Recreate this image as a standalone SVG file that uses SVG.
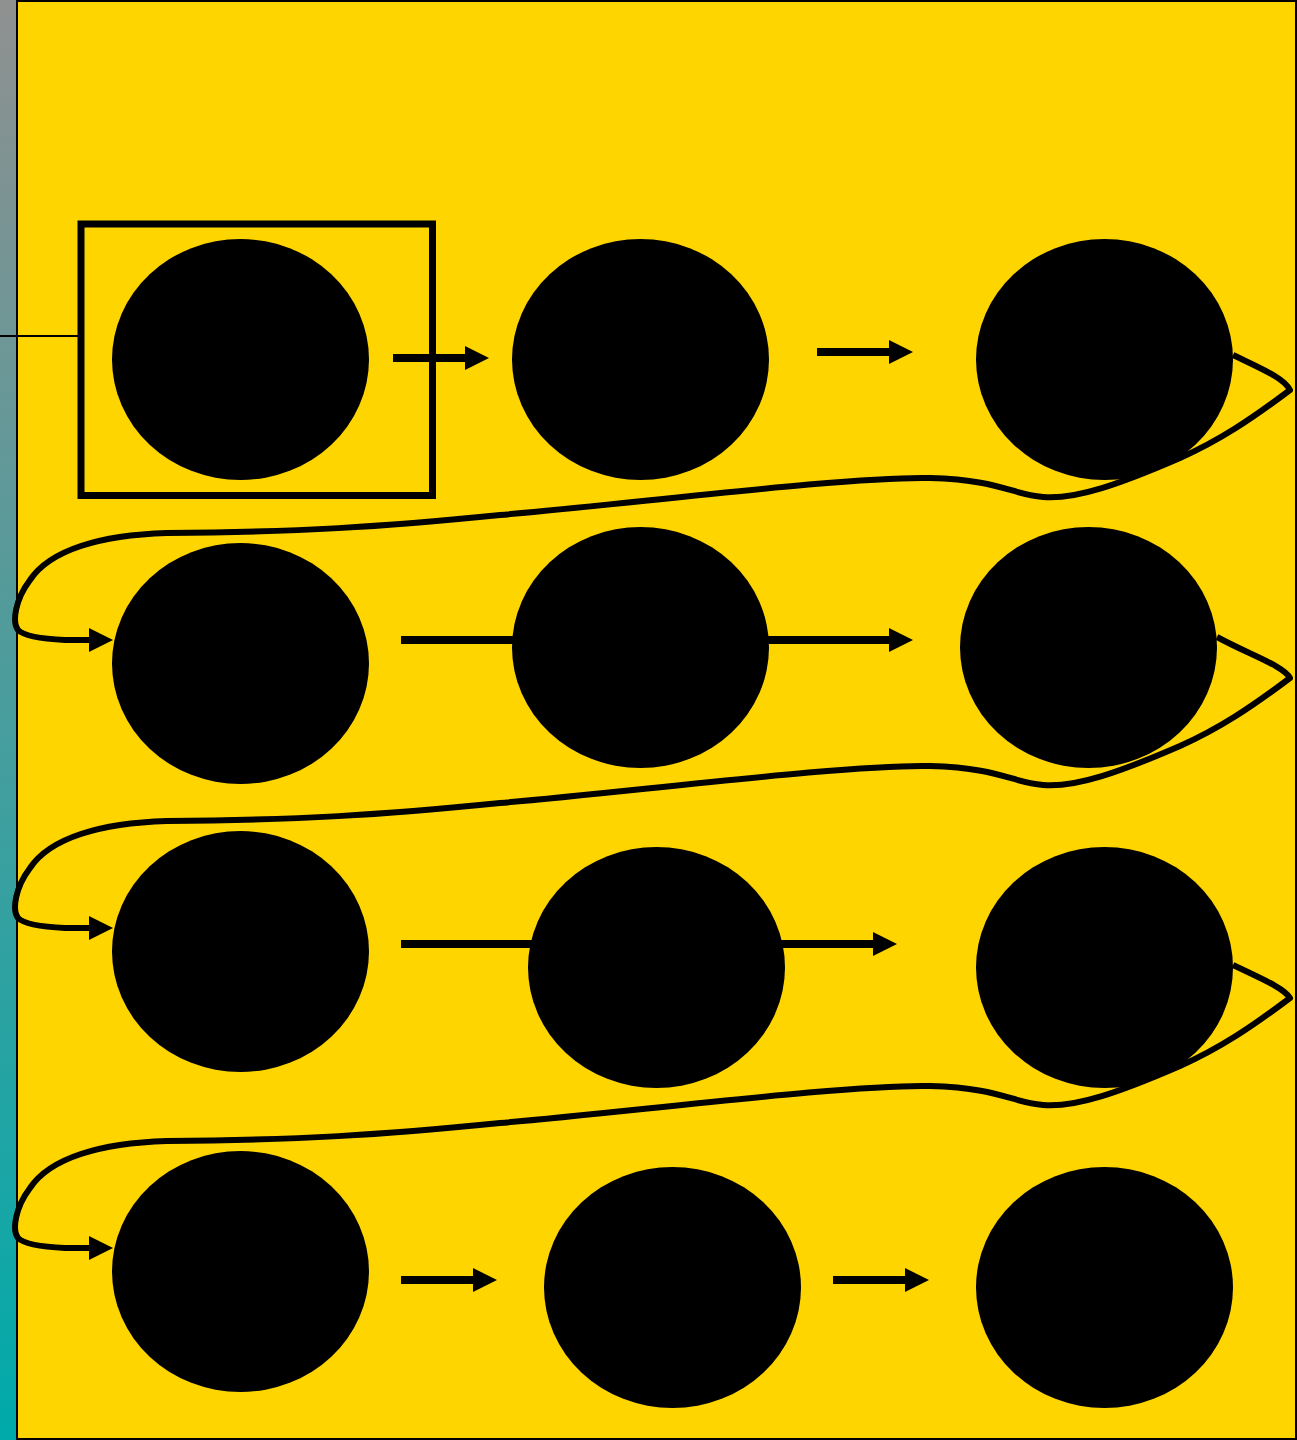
<svg xmlns="http://www.w3.org/2000/svg" width="1297" height="1440" viewBox="0 0 1297 1440">
  <defs>
    <linearGradient id="strip" x1="0" y1="0" x2="0" y2="1">
      <stop offset="0" stop-color="#909090"/>
      <stop offset="1" stop-color="#00AAAA"/>
    </linearGradient>
    <marker id="head" markerUnits="userSpaceOnUse" markerWidth="24" markerHeight="24" refX="0" refY="12" orient="auto" overflow="visible">
      <path d="M0,0 L24,12 L0,24 Z" fill="#000"/>
    </marker>
    <style>
      .node { fill: #000; }
      .straight { stroke: #000; stroke-width: 8; fill: none; marker-end: url(#head); }
      .loop { stroke: #000; stroke-width: 6; fill: none; stroke-linejoin: round; marker-end: url(#head); }
    </style>
  </defs>

  <rect x="0" y="0" width="17" height="1440" fill="url(#strip)"/>
  <rect x="17" y="1" width="1279" height="1438" fill="#FFD500" stroke="#000" stroke-width="2"/>
  <line x1="0" y1="336" x2="80" y2="336" stroke="#000" stroke-width="2"/>
  <rect id="frame" x="81" y="224" width="351.5" height="271.5" fill="none" stroke="#000" stroke-width="7"/>

  <g id="connectors">
    <path class="straight" d="M393,358 L465,358"/>
    <path class="straight" d="M817,352 L889,352"/>
    <path class="straight" d="M401,640 L889,640"/>
    <path class="straight" d="M401,944 L873,944"/>
    <path class="straight" d="M401,1280 L473,1280"/>
    <path class="straight" d="M833,1280 L905,1280"/>
    <path class="loop" d="M1233,355 C1262,369 1284,378 1290,390 C1250,420 1220,440 1180,458 C1120,484 1075,500 1043,497 C1010,494 1000,480 930,478 C850,476 620,505 500,515 C380,527 300,532 167,533 C100,535 50,550 30,580 C15,600 12,622 18,630 C25,637 45,639 65,640 L89,640"/>
    <path class="loop" d="M1217,637 C1250,655 1284,666 1290,678 C1250,708 1220,728 1180,746 C1120,772 1075,788 1043,785 C1010,782 1000,768 930,766 C850,764 620,793 500,803 C380,815 300,820 167,821 C100,823 50,838 30,868 C15,888 12,910 18,918 C25,925 45,927 65,928 L89,928"/>
    <path class="loop" d="M1233,965 C1262,979 1284,988 1290,998 C1250,1028 1220,1048 1180,1066 C1120,1092 1075,1108 1043,1105 C1010,1102 1000,1088 930,1086 C850,1084 620,1113 500,1123 C380,1135 300,1140 167,1141 C100,1143 50,1158 30,1188 C15,1208 12,1230 18,1238 C25,1245 45,1247 65,1248 L89,1248"/>
  </g>

  <g id="n1-1"><ellipse class="node" cx="240.5" cy="359.5" rx="128.5" ry="120.5"/></g>
  <g id="n1-2"><ellipse class="node" cx="640.5" cy="359.5" rx="128.5" ry="120.5"/></g>
  <g id="n1-3"><ellipse class="node" cx="1104.5" cy="359.5" rx="128.5" ry="120.5"/></g>
  <g id="n2-1"><ellipse class="node" cx="240.5" cy="663.5" rx="128.5" ry="120.5"/></g>
  <g id="n2-2"><ellipse class="node" cx="640.5" cy="647.5" rx="128.5" ry="120.5"/></g>
  <g id="n2-3"><ellipse class="node" cx="1088.5" cy="647.5" rx="128.5" ry="120.5"/></g>
  <g id="n3-1"><ellipse class="node" cx="240.5" cy="951.5" rx="128.5" ry="120.5"/></g>
  <g id="n3-2"><ellipse class="node" cx="656.5" cy="967.5" rx="128.5" ry="120.5"/></g>
  <g id="n3-3"><ellipse class="node" cx="1104.5" cy="967.5" rx="128.5" ry="120.5"/></g>
  <g id="n4-1"><ellipse class="node" cx="240.5" cy="1271.5" rx="128.5" ry="120.5"/></g>
  <g id="n4-2"><ellipse class="node" cx="672.5" cy="1287.5" rx="128.5" ry="120.5"/></g>
  <g id="n4-3"><ellipse class="node" cx="1104.5" cy="1287.5" rx="128.5" ry="120.5"/></g>
</svg>
